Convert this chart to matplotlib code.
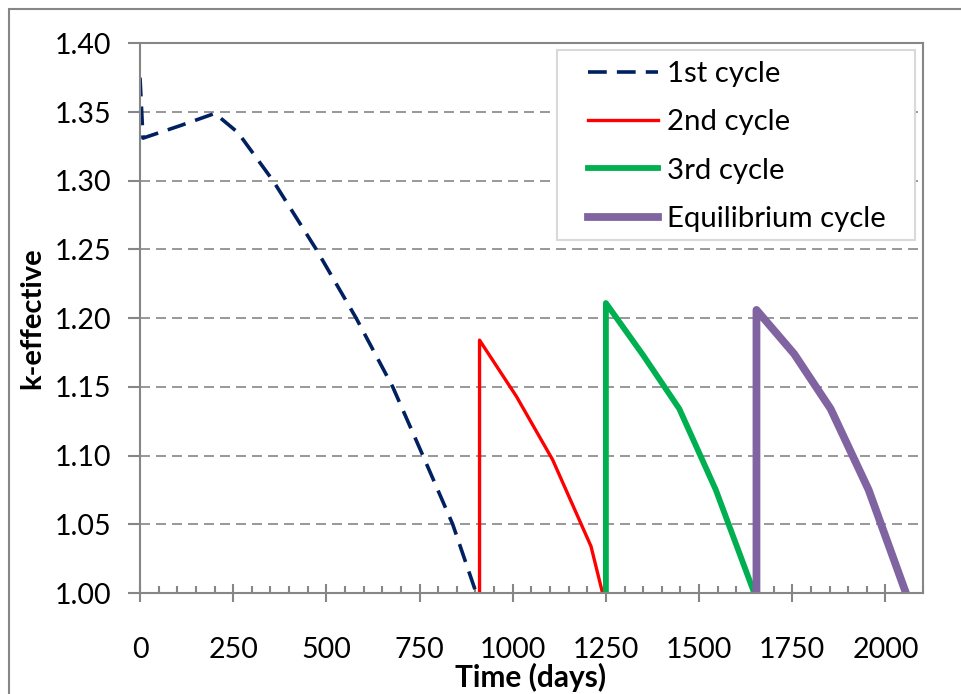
import matplotlib.pyplot as plt
from matplotlib.patches import Rectangle
from matplotlib.ticker import MultipleLocator

# Datos (días, k-efectiva)
cycle1_days = [0, 8, 107, 201, 263, 357, 473, 580, 678, 759, 839, 902]
cycle1_k = [1.375, 1.331, 1.340, 1.349, 1.335, 1.300, 1.250, 1.200, 1.150, 1.100, 1.050, 1.000]

cycle2_days = [911, 911, 1010, 1107, 1210, 1241]
cycle2_k = [1.000, 1.184, 1.143, 1.097, 1.034, 1.000]

cycle3_days = [1250, 1250, 1350, 1447, 1545, 1648]
cycle3_k = [1.000, 1.211, 1.173, 1.134, 1.075, 1.000]

eq_days = [1654, 1654, 1755, 1853, 1955, 2055]
eq_k = [1.000, 1.206, 1.174, 1.134, 1.075, 1.000]

labels = ["1st cycle", "2nd cycle", "3rd cycle", "Equilibrium cycle"]

plt.rcParams["font.family"] = ["Lato", "DejaVu Sans"]
grey = "#868686"

fig = plt.figure(figsize=(9.61, 6.94), dpi=100)
ax = fig.add_axes([140 / 961, 1 - 593 / 694, 782.7 / 961, 549.7 / 694])

ax.plot(cycle1_days, cycle1_k, color="#002060", lw=2.6, ls=(0, (5.2, 2.8)),
        dash_capstyle="butt", label=labels[0])
ax.plot(cycle2_days, cycle2_k, color="#FF0000", lw=2.4, label=labels[1])
ax.plot(cycle3_days, cycle3_k, color="#00B050", lw=4.2, label=labels[2])
ax.plot(eq_days, eq_k, color="#8064A2", lw=5.6, label=labels[3])

ax.set_xlim(0, 2100)
ax.set_ylim(1.0, 1.4)
ax.xaxis.set_major_locator(MultipleLocator(250))
ax.xaxis.set_minor_locator(MultipleLocator(50))
ax.yaxis.set_major_locator(MultipleLocator(0.05))
ax.set_yticklabels([f"{v:.2f}" for v in ax.get_yticks()])

ax.grid(axis="y", color=grey, lw=1.2, ls=(0, (6, 3.6)))
ax.set_axisbelow(True)

for side in ["left", "right", "top", "bottom"]:
    ax.spines[side].set_color(grey)
    ax.spines[side].set_linewidth(1.5)

ax.tick_params(axis="y", which="major", direction="out", length=8.6, width=1.5,
               color=grey, labelsize=20.5, pad=12)
ax.tick_params(axis="x", which="major", direction="inout", length=13, width=1.5,
               color=grey, labelsize=20.5, pad=25)
ax.tick_params(axis="x", which="minor", direction="in", length=5, width=1.5, color=grey)

fig.text(32 / 961, 1 - 318 / 694, "k-effective", rotation=90, ha="center",
         va="center", fontsize=21, fontweight="bold")
fig.text(531 / 961, 1 - 677 / 694, "Time (days)", ha="center", va="center",
         fontsize=21.5, fontweight="bold")

# Leyenda sin marco, y el marco lo dibujo aparte para imitar el relleno de Excel
leg = ax.legend(loc="upper left", bbox_to_anchor=((588 - 140) / 782.7, (593 - 61) / 549.7),
                borderaxespad=0, borderpad=0, fontsize=21.2, handlelength=2.38,
                handletextpad=0.3, labelspacing=0.76, frameon=False)
ax.add_patch(Rectangle(((557 - 140) / 782.7, (593 - 240) / 549.7), 358 / 782.7, 190 / 549.7,
                       transform=ax.transAxes, facecolor="white", edgecolor="#D9D9D9",
                       lw=1.5, zorder=4))
leg.set_zorder(5)

# Marco exterior del gráfico
fig.patches.append(Rectangle((9 / 961, -0.1), 2, 1.1 - 9 / 694, transform=fig.transFigure,
                             fill=False, edgecolor=grey, lw=1.5))

plt.savefig("out.png", dpi=100)
plt.close()
